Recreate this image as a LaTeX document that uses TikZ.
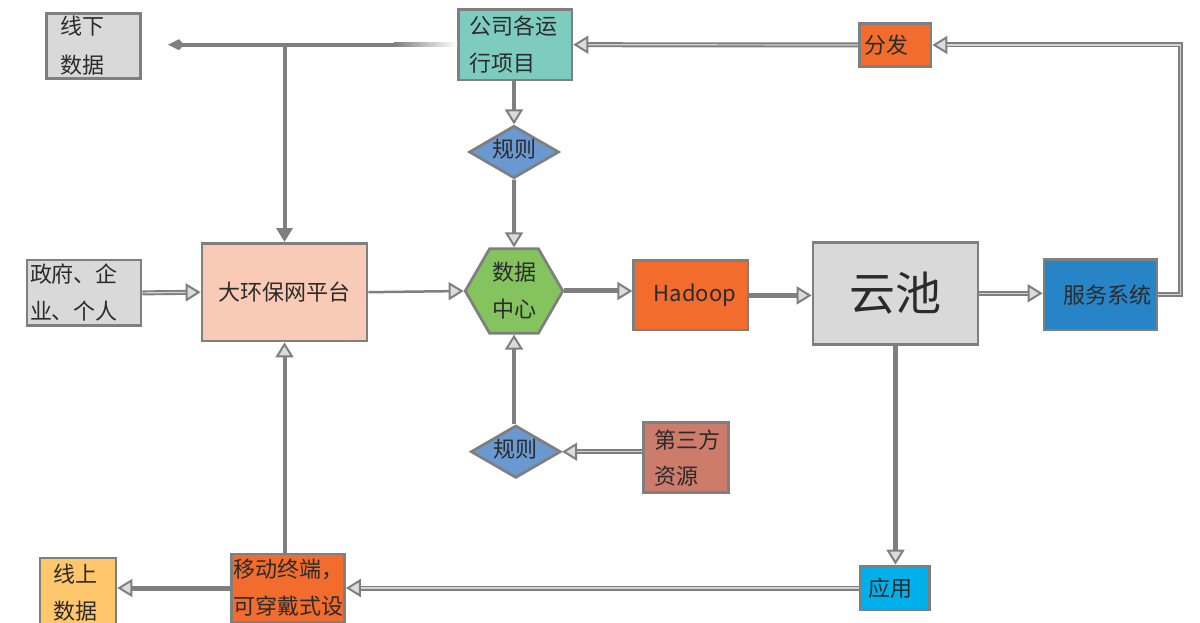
\documentclass[tikz,border=0pt]{standalone}
\usepackage{fontspec}
\setmainfont{Noto Sans CJK SC}
\usetikzlibrary{arrows.meta,shapes.geometric,calc}
\definecolor{bord}{HTML}{7F7F7F}
\definecolor{lgray}{HTML}{D9D9D9}
\definecolor{teal1}{HTML}{7DCCBF}
\definecolor{orng}{HTML}{F26C2E}
\definecolor{peach}{HTML}{F9CAB6}
\definecolor{grn}{HTML}{84C35E}
\definecolor{bdia}{HTML}{6A98D1}
\definecolor{blu}{HTML}{2684C7}
\definecolor{cyn}{HTML}{00B0EA}
\definecolor{ylw}{HTML}{FFC66C}
\definecolor{brn}{HTML}{CD7B6A}
\definecolor{txt}{HTML}{2B2B2B}
\definecolor{tipf}{HTML}{DCDCDC}
\definecolor{core}{HTML}{D4D4D4}
\begin{document}
\begin{tikzpicture}[x=1pt,y=-1pt,
  base/.style={draw=bord, line width=2.7pt, text=txt, font=\fontsize{22}{37}\selectfont, inner ysep=0pt},
  lbox/.style={base, rectangle, align=left},
  cbox/.style={base, rectangle, align=center, inner xsep=0pt},
  dia/.style={base, diamond, aspect=1.73, inner sep=0pt, minimum width=90pt, minimum height=52.5pt, text height=15pt, text depth=4pt, fill=bdia},
  hexa/.style={base, regular polygon, regular polygon sides=6, inner sep=0pt, minimum size=97.6pt, align=center},
  conn/.style={draw=bord, line width=4pt, -{Triangle[length=15pt,width=18pt,line width=2pt,fill=tipf]}},
  thickconn/.style={conn, line width=5pt},
  thinconn/.style={conn, line width=2.5pt},
  dblconn/.style={conn, line width=5pt, postaction={draw=core, line width=1.2pt, -, shorten >=15pt}},
  fillconn/.style={draw=bord, line width=4pt, -{Triangle[length=14pt,width=16pt]}},
  kiteconn/.style={draw=bord, line width=4pt, -{Kite[length=16pt,width=11pt,inset=5pt]}}
]
\useasboundingbox (0,0) rectangle (1200,623);

% nodes
\node[lbox, fill=lgray, minimum width=94pt, minimum height=65pt, inner xsep=14pt, text width=66pt, font=\fontsize{22}{39}\selectfont] (xianxia) at (93.75,46) {线下\\数据};
\node[lbox, fill=teal1, minimum width=113.5pt, minimum height=70.7pt, inner xsep=11pt, text width=91.5pt] (gongsi) at (515.25,44.7) {公司各运\\行项目};
\node[lbox, fill=orng, minimum width=71.5pt, minimum height=43.4pt, inner xsep=4.5pt, text width=62.5pt] (fenfa) at (895.25,45) {分发};
\node[dia] (guize1) at (514,152) {规则};
\node[hexa, fill=grn] (shuju) at (514,291) {数据\\中心};
\node[lbox, fill=lgray, minimum width=114pt, minimum height=65.7pt, inner xsep=3pt, text width=108pt] (zhengfu) at (84,292.9) {政府、企\\业、个人};
\node[cbox, fill=peach, minimum width=165pt, minimum height=97.7pt] (dahuanbao) at (284.5,292.2) {大环保网平台};
\node[cbox, fill=orng, minimum width=114.3pt, minimum height=69.3pt] (hadoop) at (690.9,295.4) {\hspace*{8pt}Hadoop};
\node[cbox, fill=lgray, minimum width=165pt, minimum height=102pt, font=\fontsize{46}{50}\selectfont] (yunchi) at (895.5,293.3) {云池};
\node[lbox, fill=blu, minimum width=113pt, minimum height=70.7pt, inner xsep=19pt, text width=75pt] (fuwu) at (1100.5,294.7) {服务系统};
\node[dia] (guize2) at (515.8,451.7) {规则};
\node[lbox, fill=brn, minimum width=85pt, minimum height=70pt, inner xsep=11pt, text width=63pt, font=\fontsize{22}{36}\selectfont] (disanfang) at (685.9,457.7) {第三方\\资源};
\node[lbox, fill=cyn, minimum width=69pt, minimum height=44pt, inner xsep=7.5pt, text width=54pt] (yingyong) at (895,588) {应用};
\node[lbox, fill=orng, minimum width=113pt, minimum height=68pt, inner xsep=2pt, text width=109pt] (yidong) at (288,588) {移动终端，\\可穿戴式设};
\node[lbox, fill=ylw, minimum width=76pt, minimum height=70pt, inner xsep=13.6pt, text width=48.8pt] (xianshang) at (78,593) {线上\\数据};

% connectors
\coordinate (xxtip) at (168,44.7);
\coordinate (fadestart) at ($(gongsi.west)+(-62,0)$);
\coordinate (jn) at (284.5,44.7);
\shade[left color=bord, right color=white] ($(gongsi.west)+(-63,-2)$) rectangle ($(gongsi.west)+(0,2)$);
\draw[kiteconn] (fadestart) -- (xxtip);
\draw[fillconn] (jn) -- (dahuanbao.north);

\draw[dblconn] (fenfa.west) -- (gongsi.east);
\draw[dblconn] (fuwu.east) -- ++(22,0) |- (fenfa.east);
\draw[conn] (gongsi.south -| guize1.north) -- (guize1.north);
\draw[conn] (guize1.south) -- (shuju.north);
\draw[dblconn] (zhengfu.east) -- (dahuanbao.west);
\draw[thinconn] (dahuanbao.east) -- (shuju.west);
\draw[thickconn] (shuju.east) -- (shuju.east -| hadoop.west);
\draw[thickconn] (hadoop.east) -- (hadoop.east -| yunchi.west);
\draw[dblconn] (yunchi.east) -- (yunchi.east -| fuwu.west);
\draw[thickconn] (yunchi.south) -- (yunchi.south |- yingyong.north);
\draw[dblconn] (yingyong.west) -- (yidong.east);
\draw[thickconn] (yidong.west) -- (yidong.west -| xianshang.east);
\draw[conn] (yidong.north -| dahuanbao.south) -- (dahuanbao.south);
\draw[dblconn] (disanfang.west |- guize2) -- (guize2.east);
\draw[conn] (shuju.south |- guize2.north) -- (shuju.south);
\end{tikzpicture}
\end{document}
